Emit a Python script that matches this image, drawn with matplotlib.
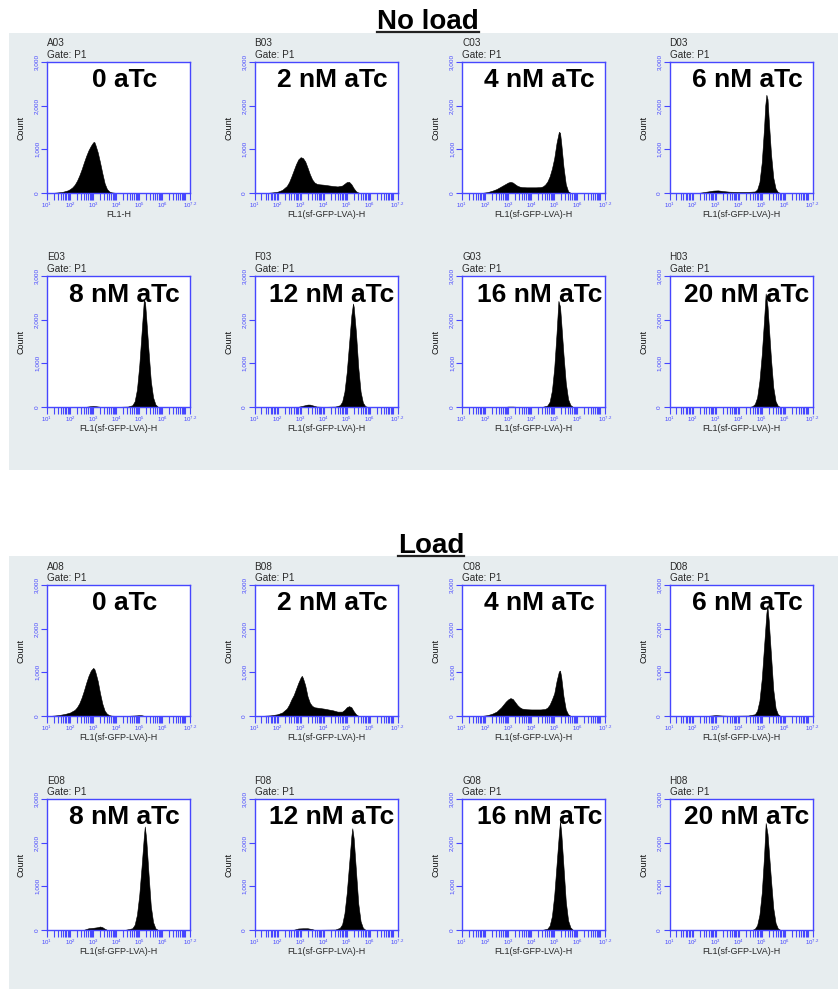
import numpy as np
import matplotlib
matplotlib.use("Agg")
import matplotlib.pyplot as plt
from matplotlib.patches import Rectangle
from matplotlib.lines import Line2D
from matplotlib.ticker import FixedLocator, NullFormatter

plt.rcParams['font.family'] = ['Liberation Sans', 'DejaVu Sans']
plt.rcParams['mathtext.fontset'] = 'custom'
plt.rcParams['mathtext.rm'] = 'Liberation Sans'
plt.rcParams['mathtext.it'] = 'Liberation Sans:italic'

# ---------------- data: (log10 fluorescence, count) ----------------
a03 = [(1.3, 5), (1.5, 15), (1.7, 30), (1.9, 60), (2.0, 90), (2.1, 130), (2.2, 190), (2.3, 280),
       (2.4, 400), (2.5, 540), (2.6, 700), (2.7, 850), (2.8, 980), (2.9, 1080), (3.0, 1160),
       (3.05, 1170), (3.1, 1100), (3.2, 930), (3.3, 700), (3.4, 450), (3.5, 220), (3.6, 90),
       (3.7, 35), (3.8, 15), (3.9, 8), (4.0, 3)]
b03 = [(1.6, 5), (1.8, 15), (2.0, 30), (2.2, 70), (2.4, 160), (2.5, 250), (2.6, 380), (2.7, 520),
       (2.8, 660), (2.9, 770), (3.0, 820), (3.1, 800), (3.2, 720), (3.3, 580), (3.4, 430),
       (3.5, 310), (3.6, 240), (3.7, 210), (3.8, 200), (3.9, 195), (4.0, 190), (4.2, 175),
       (4.4, 160), (4.6, 150), (4.8, 170), (4.9, 210), (5.0, 250), (5.1, 255), (5.2, 200),
       (5.3, 110), (5.4, 40), (5.5, 10), (5.6, 0)]
c03 = [(1.9, 5), (2.1, 20), (2.3, 50), (2.5, 90), (2.7, 150), (2.9, 210), (3.0, 240), (3.1, 255),
       (3.2, 240), (3.3, 200), (3.4, 165), (3.5, 145), (3.6, 135), (3.8, 130), (4.0, 130),
       (4.2, 130), (4.4, 135), (4.5, 150), (4.6, 190), (4.7, 260), (4.8, 380), (4.9, 560),
       (5.0, 800), (5.1, 1150), (5.2, 1400), (5.25, 1380), (5.3, 1150), (5.4, 600), (5.5, 200),
       (5.6, 40), (5.7, 5)]
d03 = [(2.3, 5), (2.6, 30), (2.9, 55), (3.1, 60), (3.3, 45), (3.6, 30), (4.0, 25), (4.4, 25),
       (4.7, 35), (4.8, 80), (4.9, 250), (5.0, 700), (5.1, 1500), (5.15, 2000), (5.2, 2250),
       (5.25, 2150), (5.3, 1700), (5.4, 900), (5.5, 350), (5.6, 100), (5.7, 20), (5.8, 3)]
e03 = [(2.7, 5), (2.9, 20), (3.0, 25), (3.1, 20), (3.3, 5), (3.5, 2), (4.0, 2), (4.5, 10),
       (4.7, 40), (4.8, 130), (4.9, 400), (5.0, 950), (5.1, 1700), (5.2, 2450), (5.25, 2400),
       (5.3, 2050), (5.4, 1300), (5.5, 600), (5.6, 220), (5.7, 60), (5.8, 10)]
f03 = [(2.9, 5), (3.1, 30), (3.3, 55), (3.4, 55), (3.5, 40), (3.7, 10), (4.0, 3), (4.5, 10),
       (4.7, 40), (4.8, 120), (4.9, 350), (5.0, 800), (5.1, 1450), (5.2, 2100), (5.27, 2370),
       (5.3, 2300), (5.4, 1700), (5.5, 900), (5.6, 350), (5.7, 100), (5.8, 20), (5.9, 3)]
g03 = [(2.9, 3), (3.0, 10), (3.2, 10), (3.4, 3), (4.5, 5), (4.7, 35), (4.8, 120), (4.9, 380),
       (5.0, 900), (5.1, 1700), (5.18, 2430), (5.25, 2300), (5.3, 1950), (5.4, 1200), (5.5, 550),
       (5.6, 180), (5.7, 45), (5.8, 6)]
h03 = [(2.9, 3), (3.0, 5), (3.1, 3), (4.5, 5), (4.6, 20), (4.7, 70), (4.8, 220), (4.9, 600),
       (5.0, 1200), (5.1, 2000), (5.17, 2600), (5.25, 2300), (5.3, 1900), (5.4, 1100), (5.5, 450),
       (5.6, 130), (5.7, 25), (5.8, 3)]

a08 = [(1.2, 5), (1.5, 20), (1.8, 50), (2.0, 80), (2.2, 140), (2.3, 200), (2.4, 290), (2.5, 420),
       (2.6, 580), (2.7, 760), (2.8, 920), (2.9, 1040), (3.0, 1100), (3.05, 1080), (3.1, 1000),
       (3.2, 800), (3.3, 520), (3.4, 280), (3.5, 120), (3.6, 50), (3.7, 20), (3.8, 8), (4.0, 3),
       (4.5, 3), (4.9, 15), (5.0, 20), (5.1, 18), (5.2, 5)]
b08 = [(1.4, 5), (1.7, 15), (2.0, 40), (2.2, 80), (2.4, 170), (2.5, 260), (2.6, 380), (2.7, 480),
       (2.8, 620), (2.9, 760), (3.0, 880), (3.05, 920), (3.1, 870), (3.2, 700), (3.3, 450),
       (3.4, 300), (3.5, 230), (3.6, 200), (3.8, 185), (4.0, 170), (4.2, 150), (4.4, 130),
       (4.6, 100), (4.8, 100), (4.9, 140), (5.0, 200), (5.1, 225), (5.2, 200), (5.3, 110),
       (5.4, 40), (5.5, 5)]
c08 = [(1.9, 5), (2.1, 20), (2.3, 50), (2.5, 100), (2.7, 200), (2.9, 330), (3.0, 380), (3.1, 410),
       (3.2, 390), (3.3, 320), (3.4, 250), (3.5, 200), (3.6, 170), (3.8, 155), (4.0, 150),
       (4.2, 150), (4.4, 150), (4.6, 160), (4.7, 190), (4.8, 260), (4.9, 380), (5.0, 520),
       (5.1, 800), (5.2, 1020), (5.25, 1040), (5.3, 900), (5.4, 450), (5.5, 150), (5.6, 40),
       (5.7, 5)]
d08 = [(2.7, 5), (3.0, 20), (3.3, 10), (3.6, 5), (4.4, 10), (4.7, 40), (4.8, 120), (4.9, 350),
       (5.0, 850), (5.1, 1600), (5.2, 2350), (5.24, 2530), (5.3, 2200), (5.4, 1400), (5.5, 600),
       (5.6, 180), (5.7, 40), (5.8, 5)]
e08 = [(2.6, 5), (2.8, 40), (3.0, 50), (3.2, 65), (3.3, 80), (3.4, 65), (3.5, 30), (3.6, 5),
       (4.4, 5), (4.7, 40), (4.8, 120), (4.9, 350), (5.0, 800), (5.1, 1450), (5.2, 2150),
       (5.24, 2370), (5.3, 2100), (5.4, 1300), (5.5, 550), (5.6, 180), (5.7, 40), (5.8, 5)]
f08 = [(2.7, 5), (2.9, 35), (3.1, 40), (3.3, 40), (3.5, 20), (3.6, 3), (4.5, 10), (4.7, 50),
       (4.8, 130), (4.9, 380), (5.0, 850), (5.1, 1500), (5.2, 2150), (5.24, 2330), (5.3, 2100),
       (5.4, 1350), (5.5, 600), (5.6, 200), (5.7, 50), (5.8, 8)]
g08 = [(2.9, 2), (3.0, 3), (3.1, 2), (4.5, 5), (4.7, 30), (4.8, 100), (4.9, 320), (5.0, 800),
       (5.1, 1500), (5.2, 2200), (5.25, 2480), (5.3, 2250), (5.4, 1450), (5.5, 650), (5.6, 220),
       (5.7, 60), (5.8, 8)]
h08 = [(4.6, 5), (4.7, 30), (4.8, 110), (4.9, 350), (5.0, 850), (5.1, 1700), (5.17, 2450),
       (5.25, 2200), (5.3, 1850), (5.4, 1150), (5.5, 500), (5.6, 160), (5.7, 35), (5.8, 5)]

top_ids = ['A03', 'B03', 'C03', 'D03', 'E03', 'F03', 'G03', 'H03']
bottom_ids = ['A08', 'B08', 'C08', 'D08', 'E08', 'F08', 'G08', 'H08']
top_data = [a03, b03, c03, d03, e03, f03, g03, h03]
bottom_data = [a08, b08, c08, d08, e08, f08, g08, h08]
conc_labels = ['0 aTc', '2 nM aTc', '4 nM aTc', '6 nM aTc',
               '8 nM aTc', '12 nM aTc', '16 nM aTc', '20 nM aTc']
top_xlabels = ['FL1-H'] + ['FL1(sf-GFP-LVA)-H'] * 7
bottom_xlabels = ['FL1(sf-GFP-LVA)-H'] * 8
section_titles = ['No load', 'Load']
y_ticks = [0, 1000, 2000, 3000]
y_ticklabels = ['0', '1,000', '2,000', '3,000']
x_tick_exps = [1, 2, 3, 4, 5, 6, 7.2]

# ---------------- layout ----------------
W, H = 838, 989
fig = plt.figure(figsize=(W / 100, H / 100), dpi=100)
fig.patch.set_facecolor('white')

GREY = '#e7edef'
BLUE = '#4646ff'
TXT = '#2a2a2a'

def fx(px):
    return px / W

def fy(py):
    return 1 - py / H

# grey panels (behind the axes)
fig.patches.append(Rectangle((fx(9), fy(470)), 1 - fx(9), (470 - 33) / H,
                             transform=fig.transFigure, facecolor=GREY, edgecolor='none', zorder=-5))
fig.patches.append(Rectangle((fx(9), 0), 1 - fx(9), (989 - 556) / H,
                             transform=fig.transFigure, facecolor=GREY, edgecolor='none', zorder=-5))

col_left = [47, 254.5, 462, 669.5]
row_top = [62, 276, 585, 799]
AW, AH = 143, 131


def draw_panel(row, col, pid, data, conc, xlabel):
    l = col_left[col]
    t = row_top[row]
    ax = fig.add_axes([fx(l), fy(t + AH), AW / W, AH / H])
    ax.set_facecolor('white')
    xs = 10 ** np.array([p[0] for p in data])
    ys = np.array([p[1] for p in data])
    ax.fill_between(xs, ys, 0, color='black', linewidth=0.4, zorder=2)
    ax.set_xscale('log')
    ax.set_xlim(10, 10 ** 7.2)
    ax.set_ylim(0, 3000)
    for s in ax.spines.values():
        s.set_color(BLUE)
        s.set_linewidth(1.0)
    ax.set_yticks(y_ticks)
    ax.set_yticklabels(y_ticklabels, rotation=90, va='center', fontsize=4.6, color=BLUE)
    ax.tick_params(axis='y', direction='out', length=4, width=0.8, color=BLUE, pad=1.5)
    ax.xaxis.set_major_locator(FixedLocator([10 ** e for e in x_tick_exps]))
    ax.set_xticklabels(['$10^{%s}$' % (('%g' % e)) for e in x_tick_exps], fontsize=4.4, color=BLUE)
    minors = [m * 10 ** d for d in range(1, 7) for m in range(2, 10)] + [1e7]
    ax.xaxis.set_minor_locator(FixedLocator(minors))
    ax.xaxis.set_minor_formatter(NullFormatter())
    ax.tick_params(axis='x', which='both', direction='out', length=5, width=0.8, color=BLUE, pad=0.8)
    ax.text(0.542, 1 - 25.5 / AH, conc, transform=ax.transAxes, ha='center', va='baseline',
            fontsize=19, fontweight='bold', color='black', zorder=5)
    ax.text(0.0, 1 + 15.5 / AH, pid, transform=ax.transAxes, ha='left', va='baseline',
            fontsize=7.2, color=TXT)
    ax.text(0.0, 1 + 3.8 / AH, 'Gate: P1', transform=ax.transAxes, ha='left', va='baseline',
            fontsize=7.2, color=TXT)
    ax.text(-26 / AW, 0.5, 'Count', transform=ax.transAxes, rotation=90, ha='center',
            va='center', fontsize=6.5, color='#111111')
    ax.text(0.5, -16.8 / AH, xlabel, transform=ax.transAxes, ha='center', va='top',
            fontsize=6.5, color=TXT)
    return ax


for i in range(8):
    draw_panel(i // 4, i % 4, top_ids[i], top_data[i], conc_labels[i], top_xlabels[i])
    draw_panel(2 + i // 4, i % 4, bottom_ids[i], bottom_data[i], conc_labels[i], bottom_xlabels[i])

titles = []
titles.append(fig.text(fx(428), fy(29.3), section_titles[0], ha='center', va='baseline',
                       fontsize=20, fontweight='bold', color='black'))
titles.append(fig.text(fx(431), fy(553), section_titles[1], ha='center', va='baseline',
                       fontsize=20, fontweight='bold', color='black'))
fig.canvas.draw()
renderer = fig.canvas.get_renderer()
for t, uy in zip(titles, [32, 556]):
    bb = t.get_window_extent(renderer)
    fig.add_artist(Line2D([bb.x0 / W, bb.x1 / W], [fy(uy), fy(uy)], transform=fig.transFigure,
                          color='#222222', linewidth=1.6))

fig.savefig('out.png', dpi=100, facecolor='white')
